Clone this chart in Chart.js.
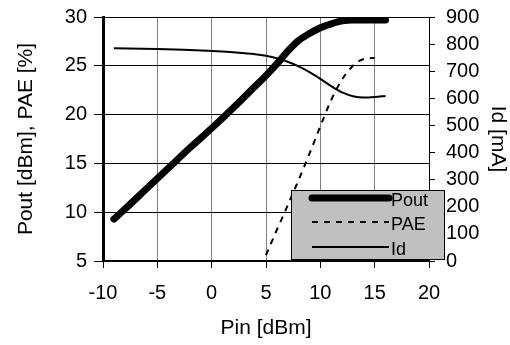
<!DOCTYPE html>
<html>
<head>
<meta charset="utf-8">
<script src="https://cdn.jsdelivr.net/npm/chart.js@4/dist/chart.umd.min.js"></script>
<style>
html,body{margin:0;padding:0;background:#fff;}
#wrap{width:510px;height:345px;position:relative;}
</style>
</head>
<body>
<div id="wrap"><canvas id="c" width="510" height="345"></canvas></div>
<script>
// ---- data ----
const poutX = [-9, -8, -6, -4, -2, 0, 2, 4, 5, 6, 7, 8, 9, 10, 11, 12, 13, 14, 15, 16];
const poutY = [9.3, 10.3, 12.4, 14.5, 16.6, 18.6, 20.7, 22.9, 24.0, 25.2, 26.5, 27.6, 28.3, 28.9, 29.3, 29.6, 29.7, 29.7, 29.7, 29.7];
const paeX = [5, 6, 7, 8, 9, 10, 11, 12, 13, 14, 15];
const paeY = [5.6, 8.2, 10.7, 13.3, 16.0, 18.8, 21.5, 23.6, 25.0, 25.7, 25.8];
const idX = [-9, -5, -2, 0, 2, 4, 5, 6, 7, 8, 9, 10, 11, 12, 13, 14, 15, 16];
const idY = [785, 782, 778, 775, 770, 763, 757, 748, 735, 718, 697, 672, 645, 622, 608, 603, 605, 609];
const seriesNames = ['Pout', 'PAE', 'Id'];
const xTitle = 'Pin [dBm]';
const yLeftTitle = 'Pout [dBm], PAE [%]';
const yRightTitle = 'Id [mA]';

const toPts = (xs, ys) => xs.map((x, i) => ({x: x, y: ys[i]}));

Chart.defaults.font.family = "'Liberation Sans', Arial, sans-serif";
Chart.defaults.font.size = 20;
Chart.defaults.color = '#000';

const legendPlugin = {
  id: 'boxLegend',
  afterDatasetsDraw(chart) {
    const ctx = chart.ctx;
    const bx = 291, by = 190, bw = 153, bh = 69;
    ctx.save();
    ctx.fillStyle = '#c0c0c0';
    ctx.fillRect(bx, by, bw, bh);
    ctx.strokeStyle = '#000';
    ctx.lineWidth = 1;
    ctx.strokeRect(bx + 0.5, by + 0.5, bw, bh);
    const rows = [198, 222, 247];
    chart.data.datasets.forEach((ds, i) => {
      const y = rows[i];
      ctx.beginPath();
      ctx.strokeStyle = ds.borderColor;
      ctx.lineWidth = ds.borderWidth;
      ctx.lineCap = i === 0 ? 'round' : 'butt';
      ctx.setLineDash(ds.borderDash || []);
      ctx.moveTo(312, y);
      ctx.lineTo(389, y);
      ctx.stroke();
      ctx.setLineDash([]);
      ctx.fillStyle = '#000';
      ctx.font = "18px 'Liberation Sans', Arial, sans-serif";
      ctx.textBaseline = 'middle';
      ctx.textAlign = 'left';
      ctx.fillText(ds.label, 391, y + 3);
    });
    ctx.restore();
  }
};

const noVPad = (s) => { s.paddingTop = 0; s.paddingBottom = 0; };

new Chart(document.getElementById('c'), {
  type: 'line',
  data: {
    datasets: [
      {label: seriesNames[0], data: toPts(poutX, poutY), yAxisID: 'y', borderColor: '#000', borderWidth: 7,
       borderCapStyle: 'round', borderJoinStyle: 'round', pointRadius: 0, cubicInterpolationMode: 'monotone', fill: false},
      {label: seriesNames[1], data: toPts(paeX, paeY), yAxisID: 'y', borderColor: '#000', borderWidth: 2,
       borderDash: [6, 6], pointRadius: 0, cubicInterpolationMode: 'monotone', fill: false},
      {label: seriesNames[2], data: toPts(idX, idY), yAxisID: 'y1', borderColor: '#000', borderWidth: 2,
       pointRadius: 0, cubicInterpolationMode: 'monotone', fill: false}
    ]
  },
  options: {
    responsive: false,
    animation: false,
    events: [],
    layout: {padding: {top: 17, left: 0, right: 0, bottom: 0}},
    plugins: {legend: {display: false}, tooltip: {enabled: false}},
    scales: {
      x: {
        type: 'linear', min: -10, max: 20,
        ticks: {stepSize: 5, padding: 13, color: '#000', autoSkip: false, maxRotation: 0},
        grid: {color: '#808080', lineWidth: 1, tickColor: '#000', tickLength: 7},
        border: {color: '#000', width: 2},
        title: {display: true, text: xTitle, padding: {top: 0, bottom: 4}, font: {size: 21}},
        afterFit(s) { s.height = 84; s.paddingLeft = 0; s.paddingRight = 0; }
      },
      y: {
        position: 'left', min: 5, max: 30,
        ticks: {stepSize: 5, padding: 7, color: '#000', autoSkip: false},
        grid: {color: '#000', lineWidth: 1, tickColor: '#000', tickLength: 9},
        border: {color: '#000', width: 3},
        title: {display: true, text: yLeftTitle, padding: {top: 14, bottom: 0}, font: {size: 21}},
        afterFit(s) { s.width = 103; noVPad(s); }
      },
      y1: {
        position: 'right', min: 0, max: 900,
        ticks: {stepSize: 100, padding: 11, color: '#000', autoSkip: false},
        grid: {drawOnChartArea: false, color: '#000', tickColor: '#000', tickLength: 6},
        border: {color: '#000', width: 1},
        title: {display: true, text: yRightTitle, padding: {top: 0, bottom: 0}, font: {size: 21}},
        afterFit(s) { s.width = 81; noVPad(s); }
      }
    }
  },
  plugins: [legendPlugin]
});
</script>
</body>
</html>
